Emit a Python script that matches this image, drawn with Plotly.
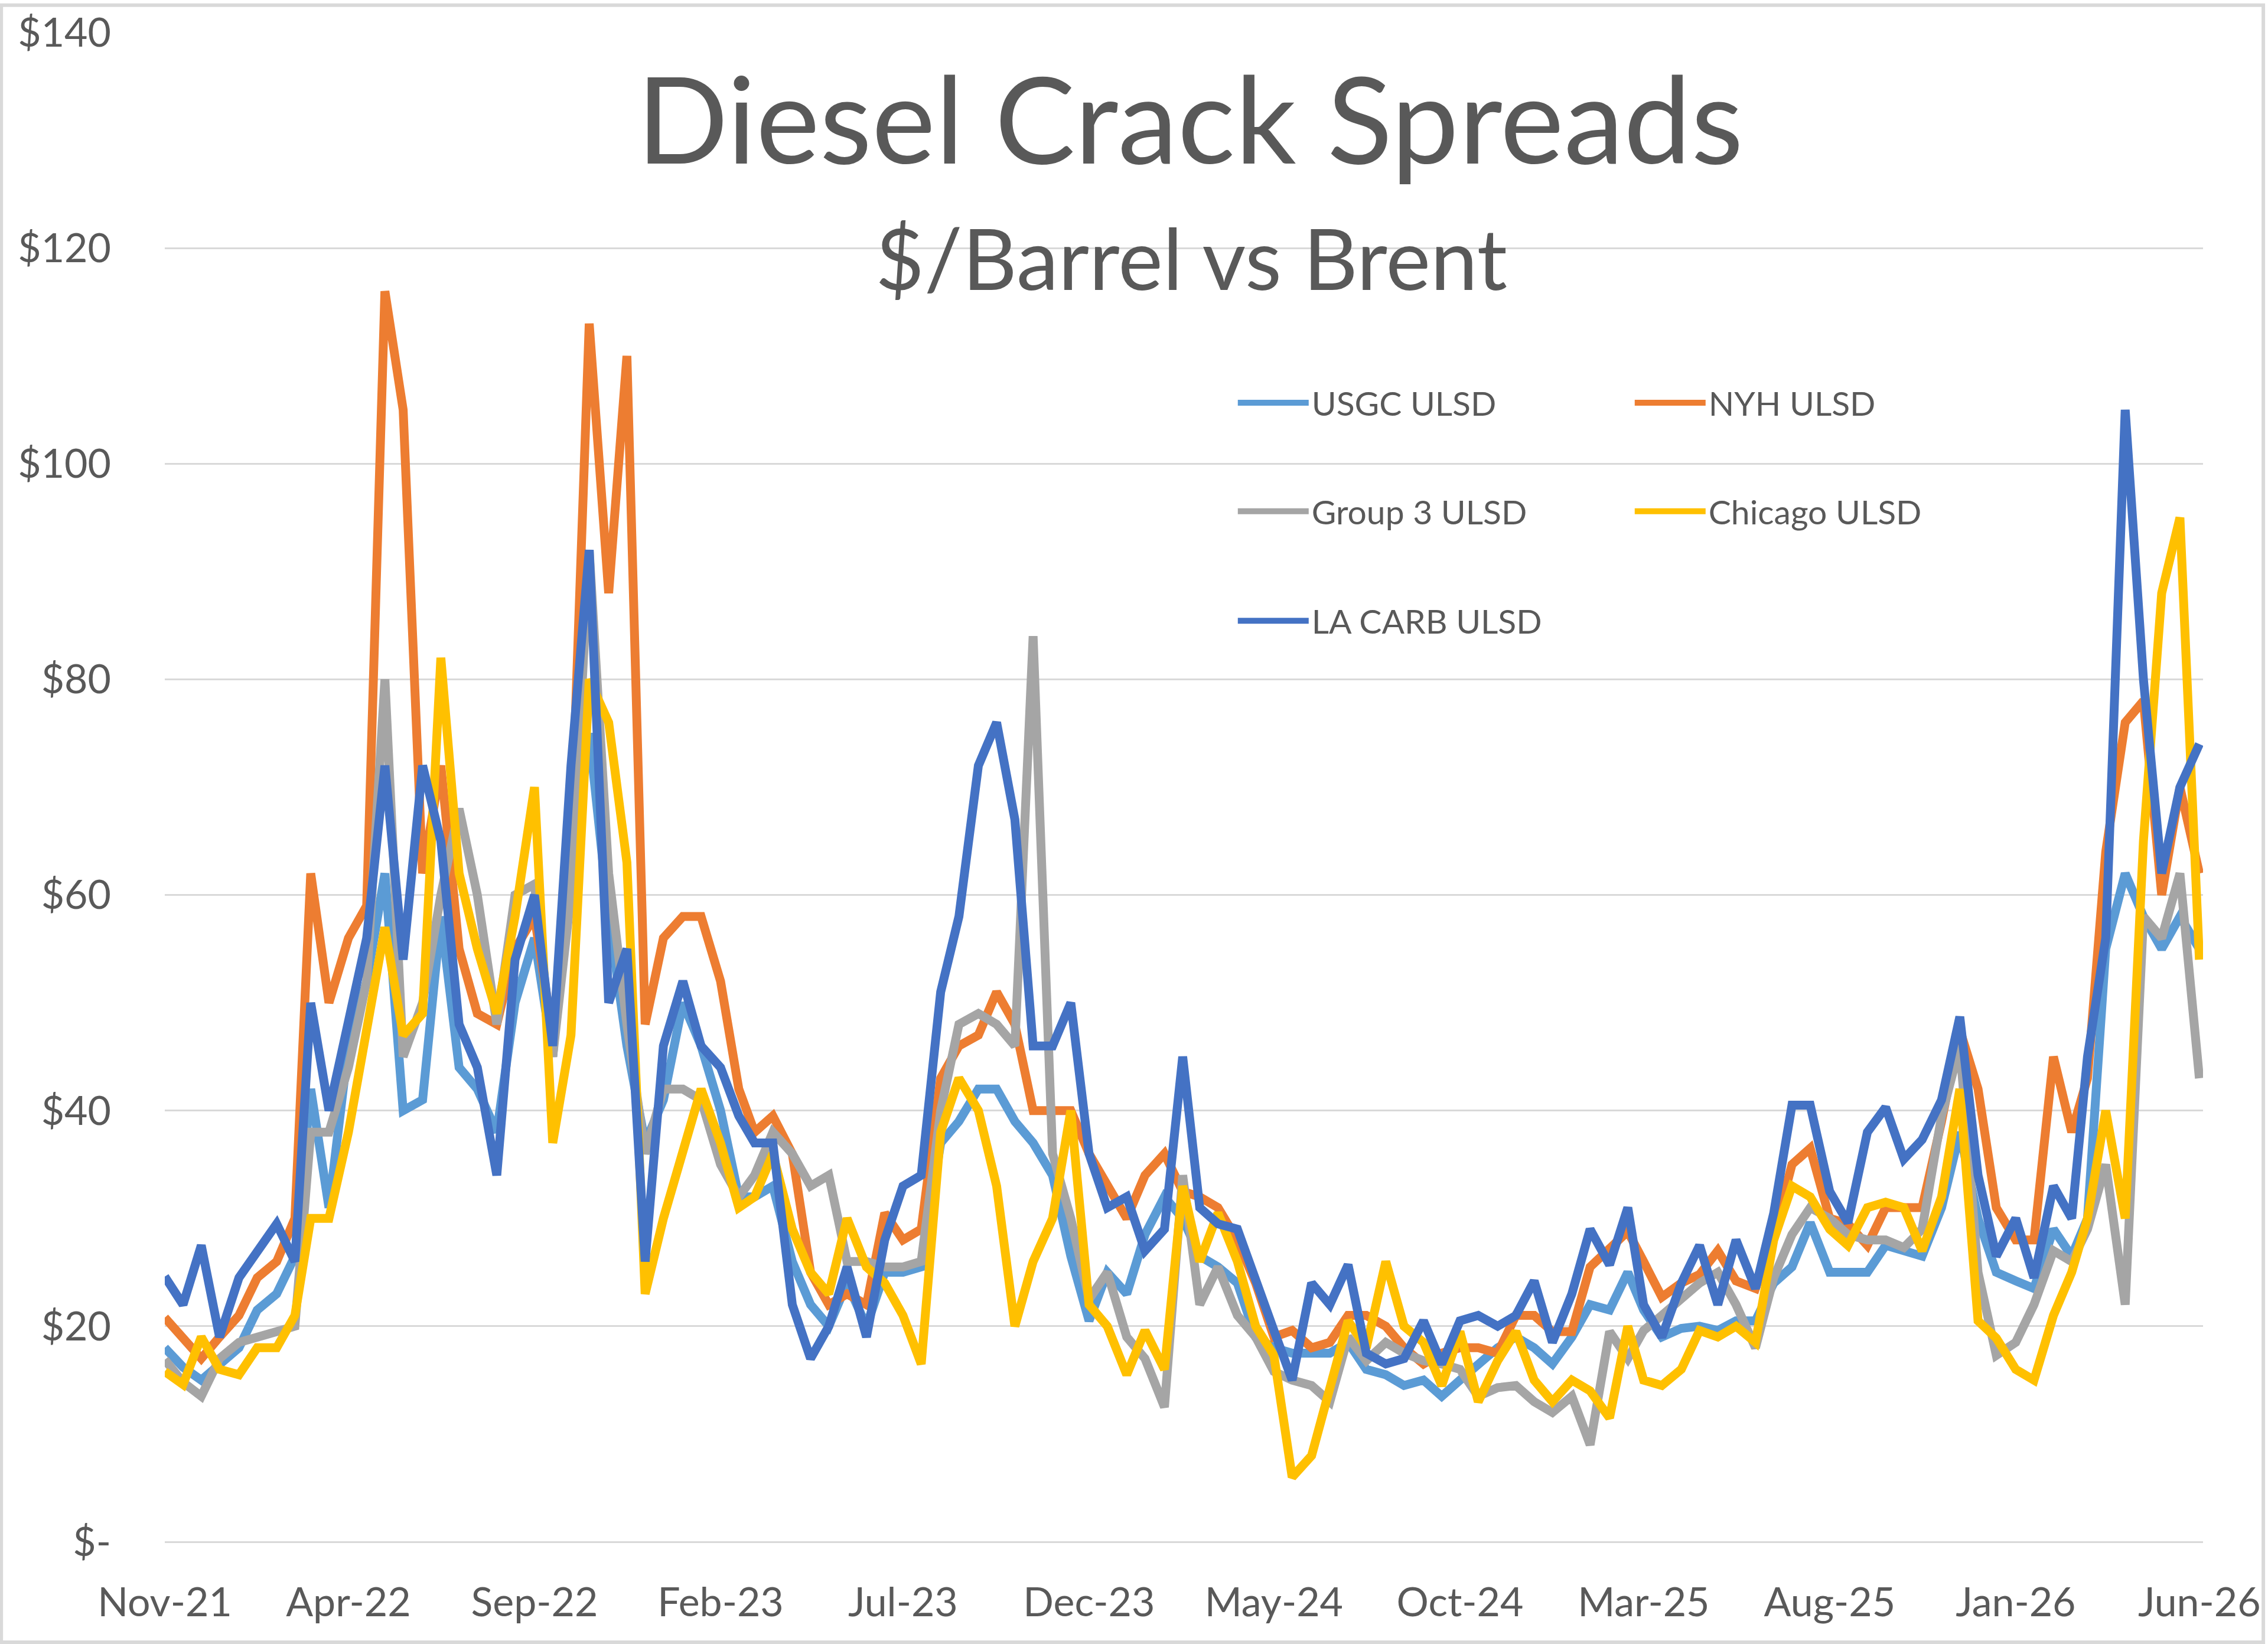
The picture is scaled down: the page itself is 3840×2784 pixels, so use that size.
import pandas as pd
import plotly.graph_objects as go

# ---- data (half-month grid, Nov-2021 .. Jun-2026) ----
month_starts = pd.date_range("2021-11-01", "2026-06-01", freq="MS")
dates = []
for d in month_starts:
    dates.append(d)
    if d != month_starts[-1]:
        dates.append(d + pd.Timedelta(days=15))

usgc = [18, 16.2, 15, 16.5, 18, 21.5, 23, 26.5, 42, 31, 46, 52, 62, 40, 41, 58, 44,
        42, 38, 50, 56, 45, 65, 75, 58, 46, 37, 41, 50, 46, 40, 32, 32, 33, 26, 22,
        20, 24, 20, 25, 25, 25.5, 37, 39, 42, 42, 39, 37, 34, 26.5, 20.5, 25, 23,
        28.5, 32, 30, 26.5, 25.5, 24, 19, 18, 17.5, 17.5, 17.5, 18.5, 16, 15.5, 14.5, 15, 13.5, 15,
        16.5, 18, 19, 18, 16.5, 19, 22, 21.5, 25, 21.5, 19, 19.8, 20, 19.6, 20.5, 20.5, 24,
        25.5, 29.6, 25, 25, 25, 27.5, 27, 26.5, 31, 38, 30, 25, 24.2,
        23.5, 29, 26.5, 30, 55, 62, 58, 55, 58, 55]

nyh = [20.8, 19, 17, 19, 21, 24.5, 26, 30, 62, 50, 56, 59, 116, 105, 62, 72, 55,
       49, 48, 55, 58, 47, 65, 113, 88, 110, 48, 56, 58, 58, 52, 42, 38, 39.5, 36, 25,
       22, 23, 22, 30.5, 28, 29, 43, 46, 47, 51, 48, 40, 40, 40, 36, 33, 30,
       34, 36, 32.5, 32, 31, 28, 24, 19, 19.6, 18, 18.5, 21, 21, 20, 18, 16.5, 17.5, 18,
       18, 17.5, 21, 21, 19.5, 19.5, 25.5, 27.3, 28.8, 26, 22.7, 24, 24.8, 27, 24.2, 23.5, 28.5,
       35, 36.5, 30, 29.5, 27.5, 31, 31, 31, 39, 47.5, 42, 31, 28,
       28, 45, 38, 43, 64, 76, 78, 60, 70, 62]

group3 = [16.9, 14.8, 13.5, 17, 18.5, 18.9, 19.5, 20, 38, 38, 44, 52, 80, 45, 50, 60, 68,
          60, 48, 60, 61, 45, 60, 92, 62, 48, 36, 42, 42, 41, 35, 32, 34, 38, 36, 33,
          34, 26, 26, 25.5, 25.5, 26, 40, 48, 49, 48, 46, 84, 36, 30, 22.5, 25, 19,
          17, 12.5, 34, 22, 25.5, 21, 19, 15.8, 15, 14.5, 13, 19, 16.8, 18.5, 17.5, 16.8, 16.5, 16,
          13.5, 14.3, 14.5, 13, 12, 13.5, 9, 19.5, 17, 19.6, 21, 22.5, 24, 25, 22, 18, 24.5,
          28.5, 31, 30, 28.5, 28, 28, 27.3, 29, 39.5, 46, 25, 17.3, 18.5,
          22, 27, 26, 29, 35, 22, 58, 56, 62, 43]

chicago = [15.8, 14.6, 19, 16, 15.5, 18, 18, 21, 30, 30, 38, 47, 57, 47, 49, 82, 62,
           55, 49, 58, 70, 37, 47, 80, 76, 63, 23, 30, 36, 42, 37, 31, 32, 36, 29, 25,
           23, 30, 25.5, 24, 21, 16.5, 38, 43, 40, 33, 20, 26, 30, 40, 22, 20, 15.5,
           19.6, 16, 33, 26, 30.5, 26, 20, 17.3, 6, 8, 14.3, 20.5, 18, 26, 20, 18.5, 14.5, 19.5,
           13, 16.8, 19.5, 15, 13, 15, 14, 11.5, 20, 15, 14.5, 16, 19.6, 19, 20, 18.5, 28,
           33, 32, 29, 27.5, 31, 31.5, 31, 27, 32, 42, 20.5, 18.9, 16,
           15, 21, 25, 30, 40, 30, 65, 88, 95, 54]

la_carb = [24.6, 22, 27.5, 19, 24.5, 27, 29.5, 26, 50, 40, 48, 56, 72, 54, 72, 65, 48,
           44, 34, 54, 60, 46, 72, 92, 50, 55, 26, 46, 52, 46, 44, 39.5, 37, 37, 22, 17,
           20, 25.5, 19, 28, 33, 34, 51, 58, 72, 76, 67, 46, 46, 50, 36, 31, 32,
           27, 29, 45, 31, 29.5, 29, 24, 19.6, 15, 24, 22, 25.7, 17.5, 16.5, 17, 20.5, 16.5, 20.5,
           21, 20, 21, 24.2, 18.5, 23, 29, 25.7, 31, 22, 19, 24, 27.5, 22, 28, 23.5, 30.5,
           40.5, 40.5, 32.5, 29.6, 38, 40.3, 35.5, 37.3, 41, 48.7, 34, 26.5, 30,
           24.5, 33, 30, 45, 56, 105, 80, 62, 70, 74]

series_names = ["USGC ULSD", "NYH ULSD", "Group 3 ULSD", "Chicago ULSD", "LA CARB ULSD"]
series_values = [usgc, nyh, group3, chicago, la_carb]
series_colors = ["#5B9BD5", "#ED7D31", "#A5A5A5", "#FFC000", "#4472C4"]
series_legends = ["legend", "legend", "legend2", "legend2", "legend3"]

y_tickvals = [0, 20, 40, 60, 80, 100, 120, 140]
y_ticktext = ["$-", "$20", "$40", "$60", "$80", "$100", "$120", "$140"]
x_tickvals = list(pd.date_range("2021-11-01", "2026-06-01", freq="5MS"))

FONT = "Lato"
TXT = "#595959"

fig = go.Figure()
for name, vals, col, lg in zip(series_names, series_values, series_colors, series_legends):
    fig.add_trace(go.Scatter(
        x=dates, y=vals, name=name, mode="lines",
        line=dict(color=col, width=15),
        legend=lg, showlegend=True,
    ))

L, R, T, B = 279, 105, 49, 173
W, H = 3840, 2784
pw, ph = W - L - R, H - T - B

leg_common = dict(
    orientation="h", xanchor="left", yanchor="middle",
    x=0.525, font=dict(family=FONT, size=57, color=TXT),
    itemwidth=120, entrywidth=537, entrywidthmode="pixels",
    bgcolor="rgba(0,0,0,0)", traceorder="normal",
)

fig.update_layout(
    width=W, height=H,
    margin=dict(l=L, r=R, t=T, b=B),
    paper_bgcolor="white", plot_bgcolor="white",
    font=dict(family=FONT, color=TXT),
    legend=dict(leg_common, y=(2611 - 678) / ph),
    legend2=dict(leg_common, y=(2611 - 862) / ph),
    legend3=dict(leg_common, y=(2611 - 1048) / ph),
    xaxis=dict(
        type="date", range=["2021-11-01", "2026-06-04"],
        tickvals=x_tickvals, tickformat="%b-%y",
        showgrid=False, showline=False, zeroline=False, ticks="",
        tickfont=dict(family=FONT, size=68, color=TXT),
        ticklabelstandoff=57,
    ),
    yaxis=dict(
        range=[0, 140], tickvals=y_tickvals, ticktext=y_ticktext,
        showgrid=True, gridcolor="#D9D9D9", gridwidth=3,
        zeroline=True, zerolinecolor="#D9D9D9", zerolinewidth=3,
        showline=False, ticks="",
        tickfont=dict(family=FONT, size=68, color=TXT),
        ticklabelstandoff=90,
    ),
    annotations=[
        dict(text="Diesel Crack Spreads", xref="paper", yref="paper",
             x=(2018 - L) / pw, y=(2611 - 192) / ph, xanchor="center", yanchor="middle",
             showarrow=False, font=dict(family=FONT, size=204, color=TXT)),
        dict(text="$/Barrel vs Brent", xref="paper", yref="paper",
             x=(2020 - L) / pw, y=(2611 - 430) / ph, xanchor="center", yanchor="middle",
             showarrow=False, font=dict(family=FONT, size=143, color=TXT)),
    ],
    shapes=[
        dict(type="rect", xref="paper", yref="paper",
             x0=-L / pw + 0.0005, x1=1 + R / pw - 0.0008,
             y0=-B / ph + 0.001, y1=1 + T / ph - 0.001,
             line=dict(color="#D9D9D9", width=6), fillcolor="rgba(0,0,0,0)", layer="below"),
    ],
)

fig.write_html("out.html")
